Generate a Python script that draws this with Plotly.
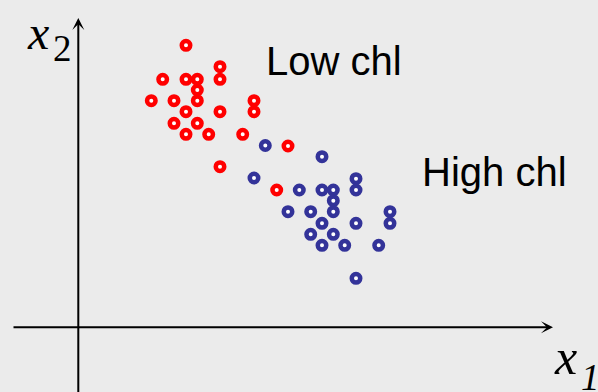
import plotly.graph_objects as go

# Data (units: offset from axis origin, y upward)
low_x = [107.7, 141.7, 84.4, 107.7, 119.0, 141.7, 119.0, 73.0, 95.7, 119.0, 175.7,
         107.7, 141.7, 175.7, 95.7, 119.0, 107.7, 130.4, 164.4, 209.7, 141.7, 198.4]
low_y = [282.0, 260.6, 248.0, 248.0, 248.0, 248.0, 237.3, 226.6, 226.6, 226.6, 226.6,
         215.6, 215.6, 215.6, 204.0, 204.0, 193.0, 193.0, 193.0, 181.3, 160.6, 137.3]
high_x = [187.0, 243.7, 175.7, 221.0, 243.7, 255.0, 277.7, 277.7, 255.0, 209.7, 232.4,
          255.0, 311.7, 277.7, 311.7, 243.7, 232.4, 255.0, 243.7, 266.4, 300.4, 277.7]
high_y = [181.8, 170.6, 149.3, 137.3, 137.3, 137.3, 148.6, 137.3, 126.6, 115.6, 115.6,
          115.6, 115.6, 104.0, 104.0, 104.0, 93.0, 93.0, 82.0, 82.0, 82.0, 49.0]
group_labels = ["Low chl", "High chl"]
axis_labels = ["x", "1", "x", "2"]

BG = "#ebebeb"
RED = "#ff0000"
BLUE = "#333399"

fig = go.Figure()
for xs, ys, col, name in [(low_x, low_y, RED, group_labels[0]), (high_x, high_y, BLUE, group_labels[1])]:
    fig.add_trace(go.Scatter(
        x=xs, y=ys, mode="markers", name=name, showlegend=False,
        marker=dict(symbol="circle", size=8.5, color="white",
                    line=dict(color=col, width=4.5)),
    ))

anns = []
# axes with arrows
anns.append(dict(x=474.7, y=0, ax=-66.3, ay=0, xref="x", yref="y", axref="x", ayref="y",
                 text="", showarrow=True, arrowhead=3, arrowwidth=2, arrowsize=1,
                 arrowcolor="black"))
anns.append(dict(x=0, y=309.3, ax=0, ay=-70, xref="x", yref="y", axref="x", ayref="y",
                 text="", showarrow=True, arrowhead=3, arrowwidth=2, arrowsize=1,
                 arrowcolor="black"))
# group labels
anns.append(dict(x=255.7, y=266.3, xref="x", yref="y", text=group_labels[0], showarrow=False,
                 font=dict(family="Liberation Sans, Arial", size=40, color="black"),
                 xanchor="center", yanchor="middle"))
anns.append(dict(x=415.7, y=155.6, xref="x", yref="y", text=group_labels[1], showarrow=False,
                 font=dict(family="Liberation Sans, Arial", size=40, color="black"),
                 xanchor="center", yanchor="middle"))
# axis labels
serif = "Liberation Serif, Times New Roman"
anns.append(dict(x=487.2, y=-29.2, xref="x", yref="y", text="<i>" + axis_labels[0] + "</i>",
                 showarrow=False, font=dict(family=serif, size=50, color="black"),
                 xanchor="center", yanchor="middle"))
anns.append(dict(x=512.5, y=-50, xref="x", yref="y", text="<i>" + axis_labels[1] + "</i>",
                 showarrow=False, font=dict(family=serif, size=37, color="black"),
                 xanchor="center", yanchor="middle"))
anns.append(dict(x=-40.8, y=294.8, xref="x", yref="y", text="<i>" + axis_labels[2] + "</i>",
                 showarrow=False, font=dict(family=serif, size=48, color="black"),
                 xanchor="center", yanchor="middle"))
anns.append(dict(x=-16.3, y=279.3, xref="x", yref="y", text=axis_labels[3],
                 showarrow=False, font=dict(family=serif, size=37, color="black"),
                 xanchor="center", yanchor="middle"))

fig.update_layout(
    width=598, height=392,
    margin=dict(l=0, r=0, t=0, b=0),
    paper_bgcolor=BG, plot_bgcolor=BG,
    xaxis=dict(range=[-78.3, 519.7], visible=False, fixedrange=True),
    yaxis=dict(range=[-64.7, 327.3], visible=False, fixedrange=True),
    annotations=anns,
)
fig.write_html(
    "out.html",
    config={"displayModeBar": False},
    post_script="document.body.style.margin='0';document.body.style.background='" + BG + "';",
)
